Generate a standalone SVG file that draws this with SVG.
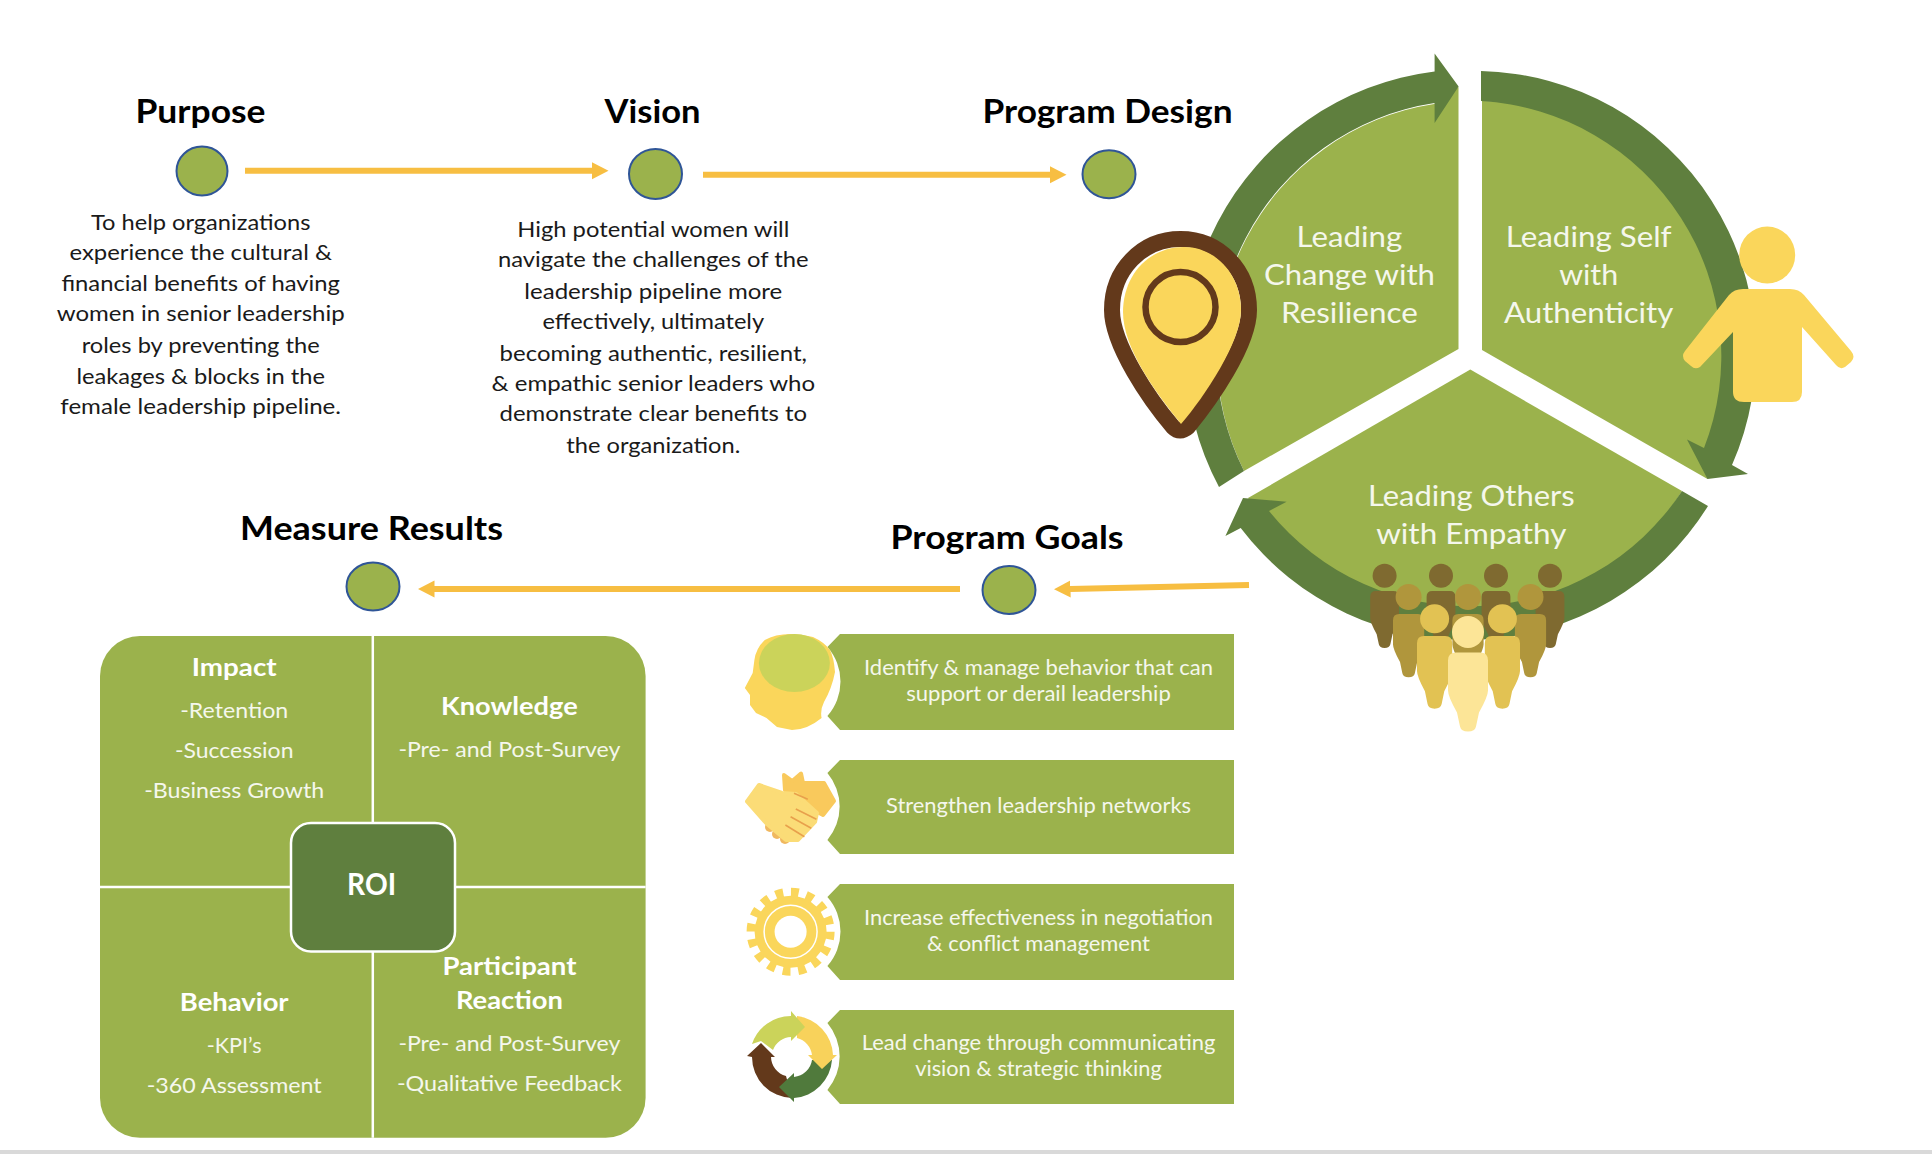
<svg xmlns="http://www.w3.org/2000/svg" xmlns:xlink="http://www.w3.org/1999/xlink" width="1932" height="1154" viewBox="0 0 1932 1154">
<style>
text{font-family:Lato,"Liberation Sans",sans-serif;text-anchor:middle}
.title{font-size:33px;font-weight:700;fill:#000}
.para{font-size:22px;fill:#1a1a1a}
.pie{font-size:29.5px;fill:#f5f7ec}
.goal{font-size:20.5px;fill:#f5f7ec}
.roih{font-size:24.5px;font-weight:700;fill:#fff}
.roit{font-size:22px;fill:#f5f7ec}
.dot{fill:#9bb24c;stroke:#2f5597;stroke-width:2}
.arrow{fill:none;stroke:#f7be42;stroke-width:6;marker-end:url(#ah)}
.sector{fill:#9bb24c}
.ring{fill:#5f7f3e}
.bar{fill:#9bb24c}
.div{stroke:#fff;stroke-width:2.5}
.y{fill:#fad65b}
</style>
<defs>
<marker id="ah" markerUnits="userSpaceOnUse" markerWidth="17" markerHeight="18" refX="0.5" refY="9" orient="auto"><path d="M0,0.5 L16.5,9 L0,17.5 Z" fill="#f7be42"/></marker>
<path id="body" d="M-20,8 Q-20,0 -12,0 L12,0 Q20,0 20,8 L20,38 Q20,44 11,60 L8,74 Q7,79 0,79 Q-7,79 -8,74 L-11,60 Q-20,44 -20,38 Z"/>
</defs>
<rect width="1932" height="1154" fill="#fff"/>
<rect y="1150" width="1932" height="4" fill="#d9d9d9"/>

<g id="connectors">
<path class="arrow" d="M245,170.7 H592.5"/>
<path class="arrow" d="M703,174.7 H1050.5"/>
<path class="arrow" d="M1249,585 L1070,589"/>
<path class="arrow" d="M960,589 H434"/>
</g>

<g id="purpose">
<text class="title" x="200.5" y="123" textLength="130" lengthAdjust="spacingAndGlyphs">Purpose</text>
<ellipse class="dot" cx="202" cy="171" rx="25.5" ry="24.5"/>
<text class="para" x="200.7" y="229.5" textLength="219.6" lengthAdjust="spacingAndGlyphs">To help organizations</text>
<text class="para" x="200.7" y="260" textLength="262.5" lengthAdjust="spacingAndGlyphs">experience the cultural &amp;</text>
<text class="para" x="200.7" y="290.5" textLength="278.5" lengthAdjust="spacingAndGlyphs">financial benefits of having</text>
<text class="para" x="200.7" y="321" textLength="288" lengthAdjust="spacingAndGlyphs">women in senior leadership</text>
<text class="para" x="200.7" y="353" textLength="238" lengthAdjust="spacingAndGlyphs">roles by preventing the</text>
<text class="para" x="200.7" y="383.5" textLength="248.5" lengthAdjust="spacingAndGlyphs">leakages &amp; blocks in the</text>
<text class="para" x="200.7" y="413.5" textLength="280.7" lengthAdjust="spacingAndGlyphs">female leadership pipeline.</text>
</g>

<g id="vision">
<text class="title" x="652.6" y="123" textLength="96" lengthAdjust="spacingAndGlyphs">Vision</text>
<ellipse class="dot" cx="655.5" cy="174" rx="26.5" ry="25"/>
<text class="para" x="653.3" y="236.7" textLength="272" lengthAdjust="spacingAndGlyphs">High potential women will</text>
<text class="para" x="653.3" y="266.7" textLength="310.7" lengthAdjust="spacingAndGlyphs">navigate the challenges of the</text>
<text class="para" x="653.3" y="298.5" textLength="258" lengthAdjust="spacingAndGlyphs">leadership pipeline more</text>
<text class="para" x="653.3" y="328.5" textLength="221.7" lengthAdjust="spacingAndGlyphs">effectively, ultimately</text>
<text class="para" x="653.3" y="361" textLength="307.4" lengthAdjust="spacingAndGlyphs">becoming authentic, resilient,</text>
<text class="para" x="653.3" y="391" textLength="323.5" lengthAdjust="spacingAndGlyphs">&amp; empathic senior leaders who</text>
<text class="para" x="653.3" y="421" textLength="307.4" lengthAdjust="spacingAndGlyphs">demonstrate clear benefits to</text>
<text class="para" x="653.3" y="452.5" textLength="174" lengthAdjust="spacingAndGlyphs">the organization.</text>
</g>

<g id="program-design">
<text class="title" x="1107.5" y="123" textLength="250" lengthAdjust="spacingAndGlyphs">Program Design</text>
<ellipse class="dot" cx="1109" cy="174.3" rx="26.5" ry="24"/>
</g>

<g id="sector-change">
<path class="sector" d="M1458.5,349 V87 L1434,104 A256,256 0 0 0 1244,471 Z"/>
<path class="ring" d="M1219,487 A284,284 0 0 1 1434.6,71.5 L1434.6,53.6 L1458.6,86.6 L1434.6,123 L1434.6,103 A256,256 0 0 0 1244,471 Z"/>
<text class="pie" x="1349.4" y="247" textLength="105.6" lengthAdjust="spacingAndGlyphs">Leading</text>
<text class="pie" x="1349.4" y="285" textLength="171" lengthAdjust="spacingAndGlyphs">Change with</text>
<text class="pie" x="1349.4" y="323.4" textLength="136.7" lengthAdjust="spacingAndGlyphs">Resilience</text>
</g>

<g id="sector-self">
<path class="sector" d="M1482,350 V101 A255,255 0 0 1 1707.5,479 Z"/>
<path class="ring" d="M1481,71 A281,281 0 0 1 1732,465 L1748,474 L1707.5,479 L1687,439.5 L1704,448 A255,255 0 0 0 1481,101 Z"/>
<text class="pie" x="1588.7" y="247" textLength="165.8" lengthAdjust="spacingAndGlyphs">Leading Self</text>
<text class="pie" x="1588.7" y="285" textLength="59" lengthAdjust="spacingAndGlyphs">with</text>
<text class="pie" x="1588.7" y="323.4" textLength="169.4" lengthAdjust="spacingAndGlyphs">Authenticity</text>
</g>

<g id="sector-others">
<path class="sector" d="M1470.3,369.6 L1682,491 A256,256 0 0 1 1248,498 Z"/>
<path class="ring" d="M1708,506 A284,284 0 0 1 1240.7,528 L1225.4,536 L1243,498 L1286.6,501.7 L1269,511 A256,256 0 0 0 1682,491 Z"/>
<text class="pie" x="1471.3" y="506" textLength="206.6" lengthAdjust="spacingAndGlyphs">Leading Others</text>
<text class="pie" x="1471.3" y="543.5" textLength="190.3" lengthAdjust="spacingAndGlyphs">with Empathy</text>
</g>

<g id="pin">
<path d="M1180.5,239 C1219,239 1249,270 1249,310 C1249,345 1210,400 1188,427 Q1180,434 1173,427 C1150,400 1112,345 1112,310 C1112,270 1142,239 1180.5,239 Z" fill="#fff" stroke="#63391b" stroke-width="16"/>
<path class="y" d="M1184,247 C1216,247 1241,275 1241,310 C1241,342 1205,396 1181,424 C1155,392 1123,348 1123,312 C1123,276 1148,247 1184,247 Z"/>
<circle cx="1180.5" cy="307" r="35" fill="none" stroke="#63391b" stroke-width="6.5"/>
</g>

<g id="person">
<ellipse class="y" cx="1767.2" cy="255" rx="28" ry="28.5"/>
<path class="y" d="M1743,289 H1790 Q1799,289 1804,295 L1851,351 Q1856,357 1851,362 L1845,367 Q1840,370 1836,365 L1802,327 V392 Q1802,402 1792,402 H1744 Q1733,402 1733,392 V332 L1700,367 Q1695,370 1691,366 L1685,361 Q1681,356 1685,351 L1729,295 Q1734,289 1743,289 Z"/>
</g>

<g id="people">
<g fill="#7f6a30">
<circle cx="1384.6" cy="575.7" r="12"/><circle cx="1441" cy="575.7" r="12"/><circle cx="1496" cy="575.7" r="12"/><circle cx="1550" cy="575.7" r="12"/>
<use xlink:href="#body" href="#body" transform="translate(1384.6,591) scale(.72,.72)"/>
<use xlink:href="#body" href="#body" transform="translate(1441,591) scale(.72,.72)"/>
<use xlink:href="#body" href="#body" transform="translate(1496,591) scale(.72,.72)"/>
<use xlink:href="#body" href="#body" transform="translate(1550,591) scale(.72,.72)"/>
</g>
<g fill="#b0963c">
<circle cx="1408.6" cy="597" r="13"/><circle cx="1468" cy="597" r="13"/><circle cx="1530.5" cy="597" r="13"/>
<use xlink:href="#body" href="#body" transform="translate(1408.6,614) scale(.78,.8)"/>
<use xlink:href="#body" href="#body" transform="translate(1468,614) scale(.78,.8)"/>
<use xlink:href="#body" href="#body" transform="translate(1530.5,614) scale(.78,.8)"/>
</g>
<g fill="#e2c253">
<circle cx="1434.6" cy="618.7" r="14.5"/><circle cx="1502.4" cy="618.7" r="14.5"/>
<use xlink:href="#body" href="#body" transform="translate(1434.6,636) scale(.88,.92)"/>
<use xlink:href="#body" href="#body" transform="translate(1502.4,636) scale(.88,.92)"/>
</g>
<g fill="#fce597">
<circle cx="1468" cy="632" r="16"/>
<use xlink:href="#body" href="#body" transform="translate(1468,652.6)"/>
</g>
</g>

<g id="program-goals">
<text class="title" x="1007" y="548.5" textLength="233" lengthAdjust="spacingAndGlyphs">Program Goals</text>
<ellipse class="dot" cx="1009" cy="590" rx="26.5" ry="24"/>
</g>

<g id="goal-1">
<path class="bar" d="M840,634 H1234 V730 H840 L827.4,716 A52,52 0 0 0 827.4,647 Z"/>
<path class="y" d="M764.8,640 Q756,648 754.4,660 L752.7,673 L744.8,688 L750,695 L750,705 L756,713 L766.5,718 L777,727 L792,730 Q807,730 821.6,718 Q820,710 824,702 Q832,688 835,672 Q834,658 830,650 Q824,642 813,637 Q800,634 790.6,634 Q775,634 764.8,640 Z"/>
<ellipse cx="794.4" cy="663" rx="35.5" ry="29" fill="#cbd35a"/>
<text class="goal" x="1038.5" y="675" textLength="349" lengthAdjust="spacingAndGlyphs">Identify &amp; manage behavior that can</text>
<text class="goal" x="1038.5" y="700.7" textLength="264.5" lengthAdjust="spacingAndGlyphs">support or derail leadership</text>
</g>

<g id="goal-2">
<path class="bar" d="M840,760 H1234 V854 H840 L827.4,840 A52,52 0 0 0 827.4,773 Z"/>
<g fill="#f0b860"><circle cx="770" cy="827" r="5"/><circle cx="777" cy="834" r="5"/><circle cx="785" cy="839" r="5"/></g>
<path d="M784,775 L792.3,781 L801,773.5 L803,783 L824,783 L834,801 L823,815 L806,806 L785,790 Z" fill="#f9c95c" stroke="#f9c95c" stroke-width="4" stroke-linejoin="round"/>
<path d="M747,801.5 L759,785 L782,793 L796,794 L817,813 L815,822 L798,840 L786,840 L767,824 Z" fill="#fbdc77" stroke="#fbdc77" stroke-width="4" stroke-linejoin="round"/>
<g stroke="#e8a04c" stroke-width="1.6" fill="none"><path d="M795.8,809 L816.4,819.3"/><path d="M790.6,816.7 L811.3,828.3"/><path d="M785.4,825 L804.4,836.7"/><path d="M794,793.3 L807.8,799.3"/></g>
<text class="goal" x="1038.5" y="812.7" textLength="305" lengthAdjust="spacingAndGlyphs">Strengthen leadership networks</text>
</g>

<g id="goal-3">
<path class="bar" d="M840,884 H1234 V980 H840 L827.4,966 A52,52 0 0 0 827.4,897 Z"/>
<circle cx="790.6" cy="931.7" r="36" class="y"/>
<circle cx="790.6" cy="931.7" r="39" fill="none" stroke="#fad65b" stroke-width="10" stroke-dasharray="7.66 7.66"/>
<circle cx="790.6" cy="931.7" r="26.5" fill="none" stroke="#fff" stroke-width="1.5"/>
<circle cx="790.6" cy="931.7" r="16" fill="#fff"/>
<text class="goal" x="1038.5" y="925" textLength="349" lengthAdjust="spacingAndGlyphs">Increase effectiveness in negotiation</text>
<text class="goal" x="1038.5" y="951" textLength="222.8" lengthAdjust="spacingAndGlyphs">&amp; conflict management</text>
</g>

<g id="goal-4">
<path class="bar" d="M840,1010 H1234 V1104 H840 L827.4,1090 A52,52 0 0 0 827.4,1023 Z"/>
<path fill="#63391b" d="M792,1098 A41,41 0 0 1 752,1057 L747,1056 L761,1043 L775,1057 L771,1057 A20,20 0 0 0 786,1076 Z"/>
<path fill="#507a3c" d="M832,1060 A41,41 0 0 1 794,1098 L794,1102 L779,1087 L794,1073 L794,1077 A20,20 0 0 0 812,1060 Z"/>
<path fill="#f8d25b" d="M797,1016 A41,41 0 0 1 833,1055 L837,1055 L822,1069 L808,1055 L812,1055 A20,20 0 0 0 797,1038 Z"/>
<path fill="#cbd35a" d="M752,1044 A41,41 0 0 1 791,1016 L791,1011 L805,1027 L791,1041 L791,1037 A20,20 0 0 0 773,1050 L761,1041 Z"/>
<text class="goal" x="1038.5" y="1050" textLength="353.6" lengthAdjust="spacingAndGlyphs">Lead change through communicating</text>
<text class="goal" x="1038.5" y="1076" textLength="246.6" lengthAdjust="spacingAndGlyphs">vision &amp; strategic thinking</text>
</g>

<g id="measure-results">
<text class="title" x="371.5" y="540" textLength="263" lengthAdjust="spacingAndGlyphs">Measure Results</text>
<ellipse class="dot" cx="373" cy="586.5" rx="26.5" ry="24"/>
<rect x="100" y="636" width="545.6" height="501.7" rx="40" fill="#9bb24c"/>
<path class="div" d="M372.8,636 V1137.7 M100,887 H645.6"/>
</g>

<g id="q-impact">
<text class="roih" x="234.2" y="675.5" textLength="85" lengthAdjust="spacingAndGlyphs">Impact</text>
<text class="roit" x="234.2" y="718" textLength="108" lengthAdjust="spacingAndGlyphs">-Retention</text>
<text class="roit" x="234.2" y="758" textLength="118.6" lengthAdjust="spacingAndGlyphs">-Succession</text>
<text class="roit" x="234.2" y="797.8" textLength="180" lengthAdjust="spacingAndGlyphs">-Business Growth</text>
</g>
<g id="q-knowledge">
<text class="roih" x="509.4" y="714.7" textLength="136.6" lengthAdjust="spacingAndGlyphs">Knowledge</text>
<text class="roit" x="509.4" y="757" textLength="222" lengthAdjust="spacingAndGlyphs">-Pre- and Post-Survey</text>
</g>
<g id="q-behavior">
<text class="roih" x="234.2" y="1011" textLength="108.7" lengthAdjust="spacingAndGlyphs">Behavior</text>
<text class="roit" x="234.2" y="1052.6" textLength="54.7" lengthAdjust="spacingAndGlyphs">-KPI’s</text>
<text class="roit" x="234.2" y="1092.7" textLength="175" lengthAdjust="spacingAndGlyphs">-360 Assessment</text>
</g>
<g id="q-reaction">
<text class="roih" x="509.4" y="975" textLength="134" lengthAdjust="spacingAndGlyphs">Participant</text>
<text class="roih" x="509.4" y="1009" textLength="107" lengthAdjust="spacingAndGlyphs">Reaction</text>
<text class="roit" x="509.4" y="1050.5" textLength="222" lengthAdjust="spacingAndGlyphs">-Pre- and Post-Survey</text>
<text class="roit" x="509.4" y="1090.7" textLength="225" lengthAdjust="spacingAndGlyphs">-Qualitative Feedback</text>
</g>
<g id="roi">
<rect x="291" y="823" width="164" height="128.4" rx="20" fill="#5f7f3e" stroke="#fff" stroke-width="2.5"/>
<text class="roih" x="371.6" y="895" style="font-size:30px" textLength="49" lengthAdjust="spacingAndGlyphs">ROI</text>
</g>
</svg>
